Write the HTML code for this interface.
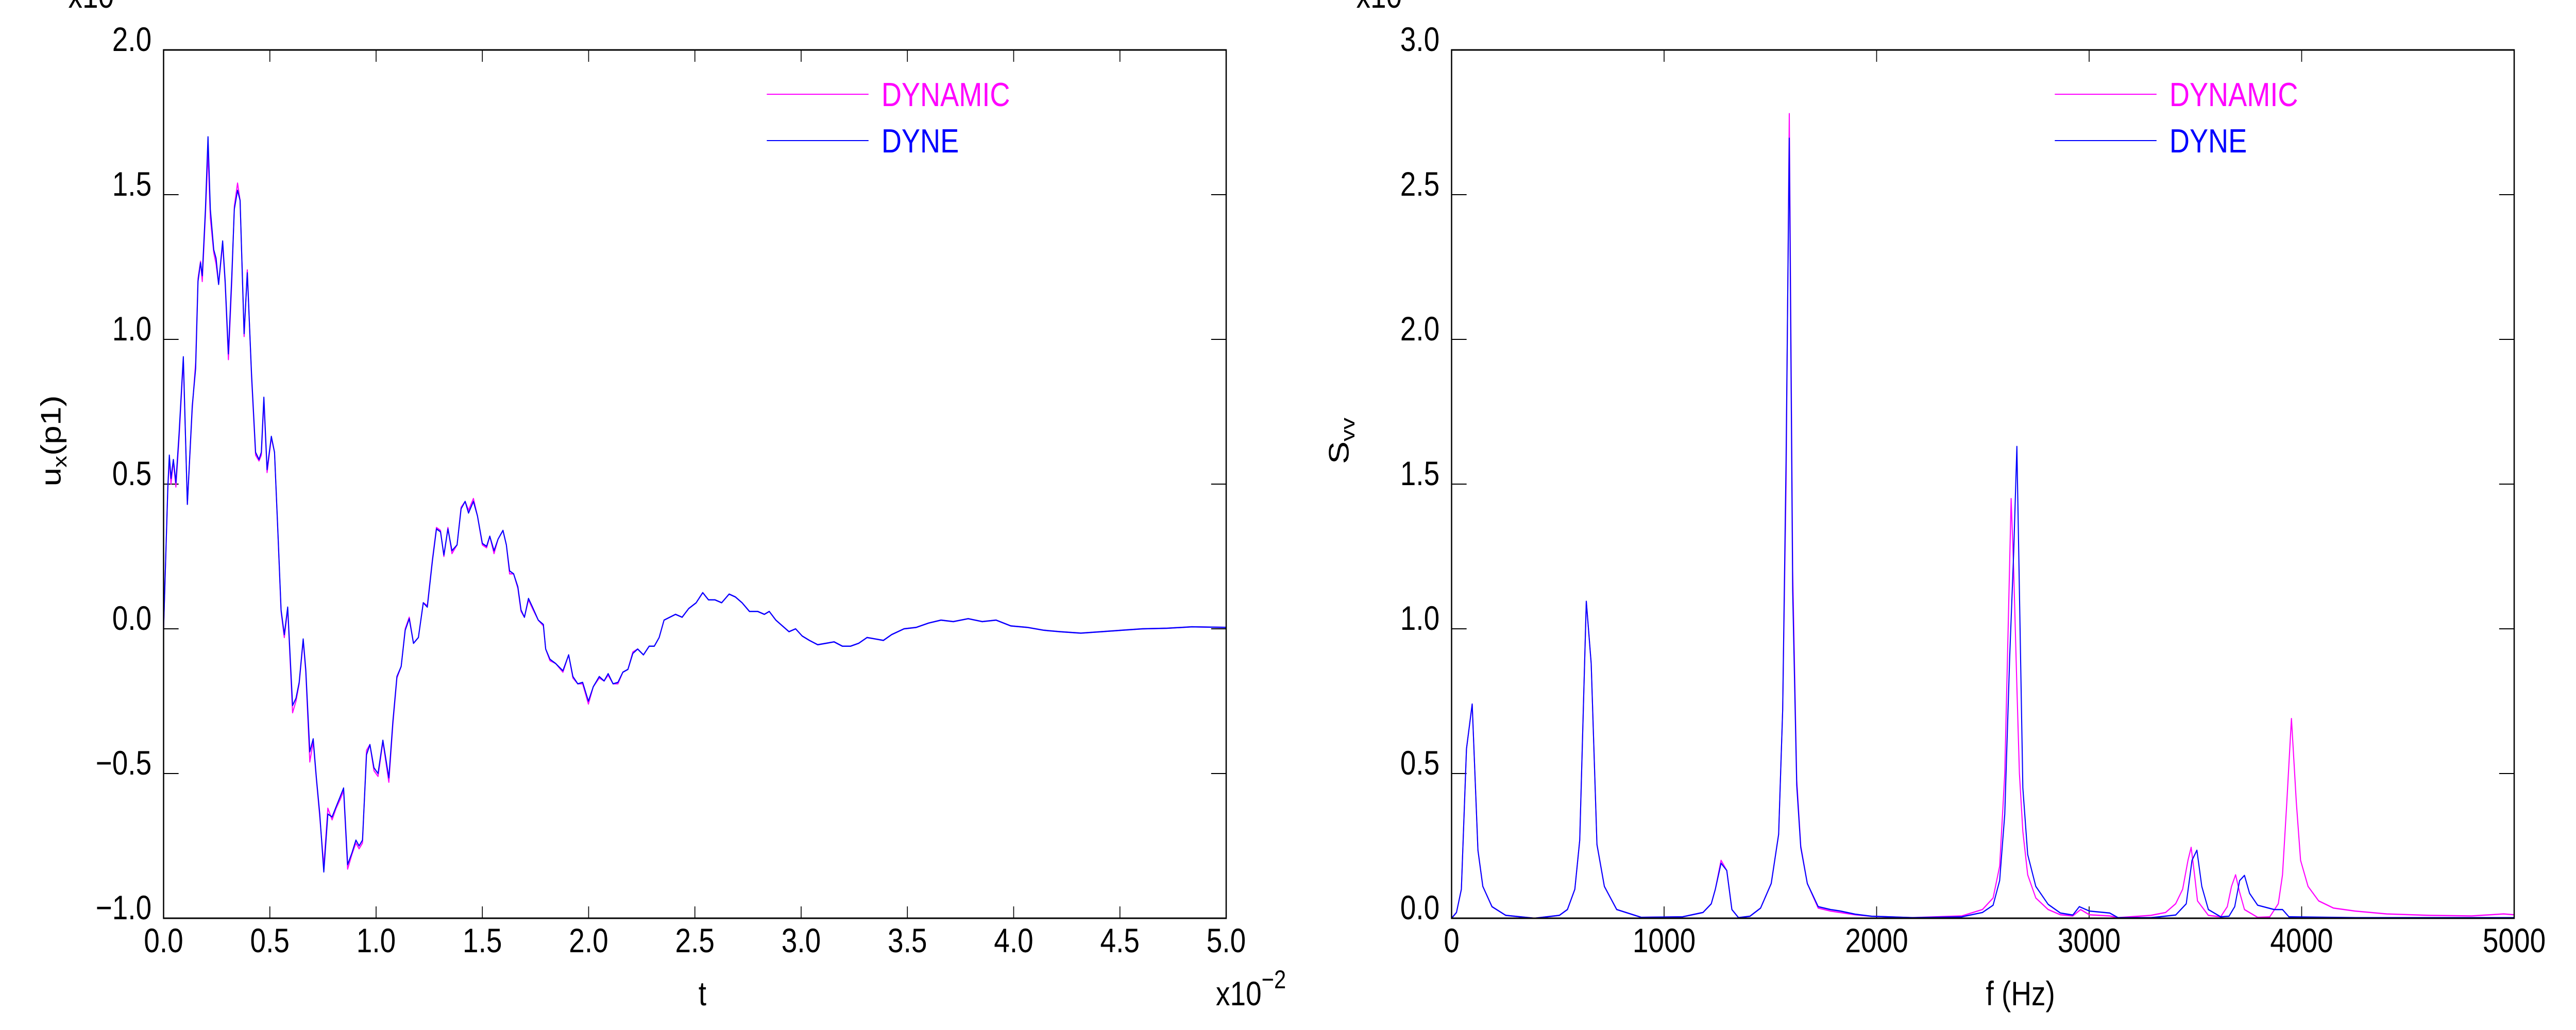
<!DOCTYPE html>
<html><head><meta charset="utf-8"><style>
html,body{margin:0;padding:0;background:#fff;overflow:hidden;width:100%;height:100%;}
svg{display:block;font-family:"Liberation Sans",sans-serif;width:100vw;height:100vh;}
</style></head><body>
<svg id="chart" viewBox="0 0 6000 2000" preserveAspectRatio="none" xmlns="http://www.w3.org/2000/svg"></svg>
<script>
// ---- Left chart data (t in x10^-2, u_x) ----
const dyneT = [0,0.02,0.027,0.035,0.046,0.058,0.073,0.093,0.112,0.135,0.151,0.162,0.174,0.182,0.197,0.209,0.220,0.236,0.247,0.259,0.278,0.290,0.305,0.321,0.333,0.348,0.360,0.379,0.394,0.414,0.433,0.449,0.460,0.472,0.487,0.507,0.522,0.538,0.553,0.568,0.584,0.607,0.623,0.638,0.657,0.669,0.688,0.704,0.719,0.735,0.754,0.773,0.793,0.812,0.831,0.847,0.866,0.886,0.905,0.920,0.936,0.955,0.971,0.990,1.009,1.032,1.060,1.079,1.098,1.118,1.137,1.156,1.176,1.199,1.222,1.241,1.265,1.284,1.303,1.319,1.338,1.357,1.381,1.400,1.419,1.435,1.458,1.477,1.500,1.520,1.535,1.555,1.574,1.597,1.613,1.628,1.647,1.667,1.682,1.698,1.717,1.736,1.763,1.787,1.798,1.818,1.845,1.879,1.906,1.926,1.949,1.972,1.999,2.022,2.050,2.073,2.092,2.115,2.138,2.161,2.185,2.208,2.231,2.258,2.285,2.309,2.332,2.355,2.382,2.409,2.440,2.471,2.506,2.537,2.564,2.595,2.626,2.661,2.691,2.722,2.757,2.796,2.827,2.850,2.881,2.912,2.943,2.974,3.005,3.039,3.078,3.117,3.155,3.194,3.233,3.271,3.310,3.349,3.387,3.426,3.484,3.542,3.600,3.658,3.716,3.786,3.852,3.917,3.987,4.064,4.142,4.219,4.316,4.412,4.509,4.606,4.722,4.838,5.0];
const dyneU = [0,0.49,0.60,0.52,0.585,0.505,0.675,0.94,0.43,0.77,0.90,1.20,1.265,1.22,1.45,1.70,1.45,1.31,1.28,1.19,1.34,1.20,0.95,1.22,1.45,1.515,1.48,1.02,1.23,0.88,0.61,0.585,0.61,0.80,0.55,0.665,0.61,0.335,0.065,-0.02,0.075,-0.265,-0.24,-0.185,-0.035,-0.14,-0.425,-0.38,-0.515,-0.64,-0.84,-0.64,-0.65,-0.615,-0.58,-0.55,-0.815,-0.775,-0.73,-0.75,-0.73,-0.435,-0.40,-0.48,-0.50,-0.385,-0.515,-0.32,-0.165,-0.13,-0.005,0.035,-0.05,-0.03,0.09,0.075,0.235,0.345,0.335,0.255,0.345,0.27,0.29,0.415,0.44,0.40,0.44,0.39,0.295,0.285,0.32,0.27,0.31,0.34,0.29,0.20,0.19,0.145,0.065,0.04,0.105,0.075,0.03,0.015,-0.07,-0.105,-0.12,-0.145,-0.09,-0.165,-0.19,-0.185,-0.25,-0.20,-0.165,-0.18,-0.155,-0.19,-0.185,-0.15,-0.14,-0.085,-0.07,-0.09,-0.06,-0.06,-0.03,0.03,0.04,0.05,0.04,0.07,0.09,0.125,0.10,0.10,0.09,0.12,0.11,0.09,0.06,0.06,0.05,0.06,0.03,0.01,-0.01,0.0,-0.025,-0.04,-0.055,-0.05,-0.045,-0.06,-0.06,-0.05,-0.03,-0.035,-0.04,-0.02,0.0,0.005,0.02,0.03,0.025,0.035,0.025,0.03,0.01,0.005,-0.005,-0.01,-0.015,-0.01,-0.005,0.0,0.002,0.007,0.005];
const dynamicT = dyneT;
const dynamicU = [0,0.48,0.59,0.50,0.58,0.49,0.66,0.93,0.43,0.76,0.92,1.21,1.27,1.20,1.43,1.65,1.42,1.30,1.26,1.19,1.33,1.19,0.93,1.20,1.46,1.54,1.48,1.01,1.24,0.87,0.60,0.58,0.60,0.79,0.54,0.66,0.61,0.33,0.06,-0.03,0.07,-0.29,-0.25,-0.19,-0.04,-0.15,-0.46,-0.39,-0.52,-0.65,-0.82,-0.62,-0.66,-0.62,-0.59,-0.56,-0.83,-0.78,-0.74,-0.76,-0.74,-0.42,-0.40,-0.49,-0.51,-0.39,-0.53,-0.33,-0.17,-0.13,0.0,0.04,-0.05,-0.03,0.09,0.08,0.24,0.35,0.34,0.25,0.35,0.26,0.29,0.42,0.44,0.41,0.45,0.39,0.29,0.28,0.32,0.26,0.31,0.34,0.29,0.19,0.19,0.14,0.06,0.04,0.10,0.07,0.03,0.01,-0.07,-0.11,-0.12,-0.15,-0.09,-0.17,-0.19,-0.19,-0.26,-0.20,-0.17,-0.18,-0.16,-0.19,-0.19,-0.15,-0.14,-0.08,-0.07,-0.09,-0.06,-0.06,-0.03,0.03,0.04,0.05,0.04,0.07,0.09,0.125,0.10,0.10,0.09,0.12,0.11,0.09,0.06,0.06,0.05,0.06,0.03,0.01,-0.01,0.0,-0.025,-0.04,-0.055,-0.05,-0.045,-0.06,-0.06,-0.05,-0.03,-0.035,-0.04,-0.02,0.0,0.005,0.02,0.03,0.025,0.035,0.025,0.03,0.01,0.005,-0.005,-0.01,-0.015,-0.01,-0.005,0.0,0.002,0.007,0.005];
const leftXTicks = ["0.0","0.5","1.0","1.5","2.0","2.5","3.0","3.5","4.0","4.5","5.0"];
const leftYTicks = ["\u22121.0","\u22120.5","0.0","0.5","1.0","1.5","2.0"];

// ---- Right chart data (f in Hz, S_vv) ----
const dyneF = [0,23,46,70,97,124,147,190,255,390,507,545,580,603,634,657,684,719,777,893,1087,1183,1222,1241,1268,1295,1319,1350,1404,1454,1504,1539,1558,1574,1589,1605,1624,1643,1674,1725,1783,1829,1899,1976,2169,2401,2498,2548,2579,2603,2626,2645,2660,2672,2688,2711,2749,2807,2865,2923,2954,3001,3097,3136,3291,3407,3457,3484,3507,3530,3561,3619,3658,3685,3708,3731,3755,3793,3871,3910,3940,4257,5000];
const dyneS = [0,0.02,0.10,0.585,0.74,0.235,0.11,0.04,0.01,0,0.01,0.03,0.10,0.27,1.095,0.88,0.255,0.11,0.03,0.003,0.005,0.02,0.05,0.10,0.19,0.165,0.03,0.002,0.007,0.035,0.12,0.29,0.72,1.58,2.695,1.13,0.46,0.245,0.12,0.04,0.03,0.025,0.014,0.007,0.002,0.005,0.02,0.045,0.13,0.36,0.90,1.265,1.63,1.13,0.45,0.22,0.11,0.048,0.018,0.011,0.04,0.025,0.018,0.002,0.002,0.011,0.05,0.20,0.235,0.11,0.03,0.005,0.007,0.04,0.13,0.148,0.086,0.045,0.03,0.03,0.005,0.002,0.002];
const dynamicF = [0,23,46,70,97,124,147,190,255,390,507,545,580,603,634,657,684,719,777,893,1087,1183,1222,1241,1268,1295,1319,1350,1404,1454,1504,1539,1558,1574,1589,1605,1624,1643,1674,1725,1783,1899,1976,2169,2401,2498,2548,2579,2603,2622,2633,2645,2660,2672,2688,2711,2749,2807,2865,2923,2960,3001,3097,3136,3291,3360,3407,3440,3465,3480,3496,3510,3561,3619,3650,3670,3689,3708,3731,3793,3850,3890,3910,3930,3952,3975,3995,4030,4080,4150,4250,4400,4600,4800,4950,5000];
const dynamicS = [0,0.02,0.10,0.585,0.74,0.235,0.11,0.04,0.01,0,0.01,0.03,0.10,0.27,1.095,0.88,0.255,0.11,0.03,0.003,0.005,0.02,0.05,0.10,0.2,0.165,0.03,0.002,0.007,0.035,0.12,0.29,0.72,1.5,2.78,1.2,0.48,0.25,0.12,0.035,0.025,0.012,0.007,0.002,0.008,0.03,0.07,0.18,0.5,1.1,1.45,1.2,0.8,0.5,0.3,0.15,0.07,0.03,0.012,0.008,0.03,0.012,0.008,0.002,0.01,0.02,0.05,0.1,0.2,0.245,0.15,0.06,0.01,0.005,0.04,0.11,0.15,0.09,0.03,0.003,0.005,0.05,0.15,0.4,0.69,0.4,0.2,0.11,0.06,0.035,0.025,0.015,0.01,0.008,0.015,0.012];
const rightXTicks = ["0","1000","2000","3000","4000","5000"];
const rightYTicks = ["0.0","0.5","1.0","1.5","2.0","2.5","3.0"];

const NS = "http://www.w3.org/2000/svg";
const svg = document.getElementById('chart');
function mk(tag, attrs, parent){
  const e = document.createElementNS(NS, tag);
  for (const k in attrs) e.setAttribute(k, attrs[k]);
  (parent||svg).appendChild(e);
  return e;
}
const TOP=97, BOT=1783;

function drawPanel(p){
  const g = mk('g', {});
  
  
  const L=p.left, R=p.left+2475;
  const sx = v => L + (v - p.xmin)/(p.xmax-p.xmin)*(R-L);
  const sy = v => BOT - (v - p.ymin)/(p.ymax-p.ymin)*(BOT-TOP);
  p.xTicks.forEach((lab,i)=>{
    const v = p.xmin + i*(p.xmax-p.xmin)/(p.xTicks.length-1);
    const x = sx(v);
    const t1 = mk('line',{x1:x,y1:BOT,x2:x,y2:BOT-23,stroke:'#000','stroke-width':2},g);
    
    
    mk('line',{x1:x,y1:TOP,x2:x,y2:TOP+23,stroke:'#000','stroke-width':2},g);
    const tx = mk('text',{x:x,y:1849,'font-size':66,'text-anchor':'middle',fill:'#000'},g);
    tx.textContent = lab;
    
    
  });
  p.yTicks.forEach((lab,i)=>{
    const v = p.ymin + i*(p.ymax-p.ymin)/(p.yTicks.length-1);
    const y = sy(v);
    const t1 = mk('line',{x1:L,y1:y,x2:L+35,y2:y,stroke:'#000','stroke-width':2},g);
    
    
    mk('line',{x1:R,y1:y,x2:R-35,y2:y,stroke:'#000','stroke-width':2},g);
    const tx = mk('text',{x:L-28,y:y+2,'font-size':66,'text-anchor':'end',fill:'#000'},g);
    tx.textContent = lab;
    
    
  });
  p.series.forEach(s=>{
    const d = s.x.map((v,i)=>(i?'L':'M')+sx(v).toFixed(1)+','+sy(s.y[i]).toFixed(1)).join(' ');
    const path = mk('path',{d:d,fill:'none',stroke:s.color,'stroke-width':2.5,'stroke-linejoin':'round'},g);
    
    
  });
  const fr = mk('rect',{x:L,y:TOP,width:R-L,height:BOT-TOP,fill:'none',stroke:'#000','stroke-width':3},g);
  
  
  const lg = mk('g',{},g);
  
  
  [['DYNAMIC','#ff00ff',183],['DYNE','#0000ff',273]].forEach(e=>{
    const ln = mk('line',{x1:L+1405,y1:e[2],x2:L+1642,y2:e[2],stroke:e[1],'stroke-width':2},lg);
    
    
    const tx = mk('text',{x:L+1672,y:e[2]+23,'font-size':65,fill:e[1]},lg);
    tx.textContent = e[0];
    
    
  });
  const ex = mk('text',{x:L-222,y:15,'font-size':66,fill:'#000'},g);
  ex.textContent = 'x10';
  
  
  const xt = mk('text',{x:p.xTitleX,y:1952,'font-size':66,'text-anchor':'middle',fill:'#000'},g);
  xt.textContent = p.xTitle;
  
  
  const yt = mk('text',{x:0,y:0,'font-size':66,'text-anchor':'middle',fill:'#000',transform:'translate('+(L-240)+',856) rotate(-90)'},g);
  
  
  return {g, yt};
}

const left = drawPanel({name:'displacement-chart',left:381,xmin:0,xmax:5,ymin:-1,ymax:2,xTicks:leftXTicks,yTicks:leftYTicks,xTitle:'t',xTitleX:1636,
  series:[{name:'dynamic-series',x:dynamicT,y:dynamicU,color:'#ff00ff'},{name:'dyne-series',x:dyneT,y:dyneU,color:'#0000ff'}]});
left.yt.innerHTML = 'u<tspan font-size="46" dy="14">x</tspan><tspan dy="-14">(p1)</tspan>';
const xe = mk('text',{x:2832,y:1952,'font-size':66,fill:'#000'},left.g);
xe.innerHTML = 'x10<tspan font-size="50" dy="-33">\u22122</tspan>';



const right = drawPanel({name:'spectrum-chart',left:3381,xmin:0,xmax:5000,ymin:0,ymax:3,xTicks:rightXTicks,yTicks:rightYTicks,xTitle:'f (Hz)',xTitleX:4706,
  series:[{name:'dynamic-series',x:dynamicF,y:dynamicS,color:'#ff00ff'},{name:'dyne-series',x:dyneF,y:dyneS,color:'#0000ff'}]});
right.yt.innerHTML = 'S<tspan font-size="46" dy="14">vv</tspan>';
</script>
</body></html>
